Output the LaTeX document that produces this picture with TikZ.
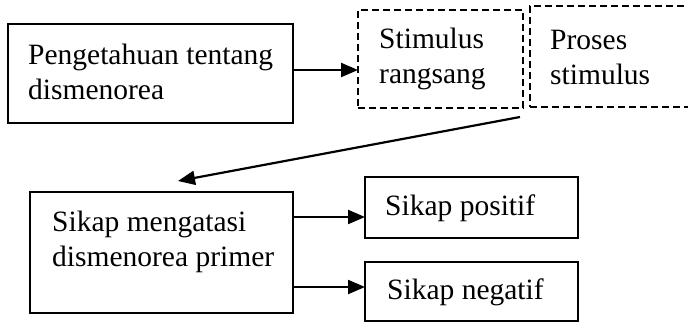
\documentclass[tikz,border=0pt]{standalone}
\usepackage{fontspec}
\setmainfont{Liberation Serif}
\usetikzlibrary{arrows.meta,calc}

\tikzset{
  box/.style={draw, line width=2pt, anchor=north west, inner sep=0pt, outer sep=0pt},
  dbox/.style={box, line width=1.8pt, dash pattern=on 7pt off 4pt},
  label/.style={anchor=base west, inner sep=0pt, font=\fontsize{29.5}{35}\selectfont},
  link/.style={line width=2.2pt, -{Triangle[length=17pt 0 0,width=14pt 0 0]}}
}
\newcommand{\twolines}[2]{\begin{tabular}[t]{@{}l@{}}#1\\#2\end{tabular}}

\begin{document}
\begin{tikzpicture}[x=1pt, y=-1pt]
  \clip (0,0) rectangle (688,322);

  % boxes
  \node[box, minimum width=285pt, minimum height=99pt] (know) at (8,24) {};
  \node[dbox, minimum width=165pt, minimum height=98pt] (stim) at (358,10) {};
  \node[dbox, minimum width=175pt, minimum height=101pt] (proc) at (530,6) {};
  \node[box, minimum width=263pt, minimum height=121pt] (att) at (30,192) {};
  \node[box, minimum width=213pt, minimum height=61pt] (pos) at (365,177) {};
  \node[box, minimum width=213pt, minimum height=59pt] (neg) at (365,262) {};

  % texts
  \node[label] (tknow) at (28,64) {\twolines{Pengetahuan tentang}{dismenorea}};
  \node[label] (tstim) at (379,48) {\twolines{Stimulus}{rangsang}};
  \node[label] (tproc) at (550,49) {\twolines{Proses}{stimulus}};
  \node[label] (tatt) at (52,231) {\twolines{Sikap mengatasi}{dismenorea primer}};
  \node[label] (tpos) at (385,215) {Sikap positif};
  \node[label] (tneg) at (387,299) {Sikap negatif};

  % connectors
  \coordinate (from) at ($(stim.south east)+(-3,9)$);
  \coordinate (to) at ($(att.north west)+(148,-11)$);
  \draw[link] (know.east |- 0,70) -- (stim.west |- 0,70);
  \draw[link] (from) -- (to);
  \draw[link] (att.east |- 0,217) -- (pos.west |- 0,217);
  \draw[link] (att.east |- 0,287) -- (neg.west |- 0,287);
\end{tikzpicture}
\end{document}
